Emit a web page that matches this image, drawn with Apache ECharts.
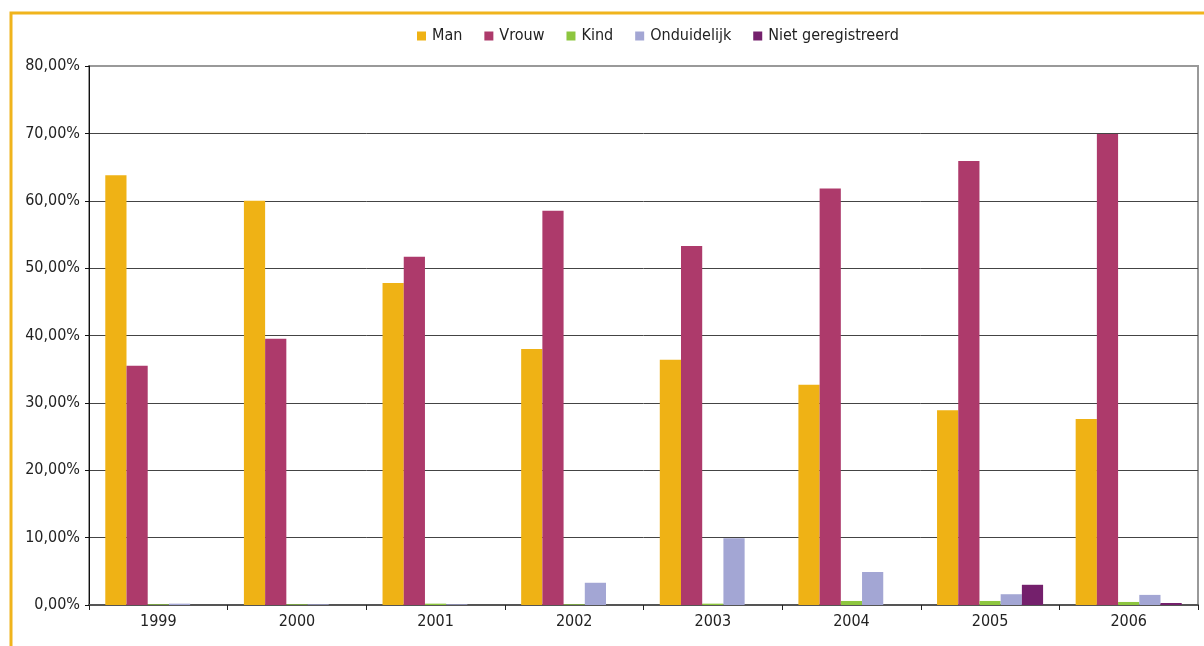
<!DOCTYPE html>
<html>
<head>
<meta charset="utf-8">
<script src="https://cdn.jsdelivr.net/npm/echarts@6/dist/echarts.min.js"></script>
<style>
  html, body { margin: 0; padding: 0; background: #fff; }
  #chart { width: 1204px; height: 646px; }
</style>
</head>
<body>
<div id="chart"></div>
<script>
// Share of registrations per year, by group (percent)
const years = ['1999', '2000', '2001', '2002', '2003', '2004', '2005', '2006'];
const man         = [63.8, 60.0, 47.8, 38.0, 36.4, 32.7, 28.9, 27.6];
const vrouw       = [35.5, 39.5, 51.7, 58.5, 53.3, 61.8, 65.9, 69.9];
const kind        = [0.1, 0.1, 0.2, 0.1, 0.2, 0.6, 0.6, 0.45];
const onduidelijk = [0.2, 0.1, 0.1, 3.3, 9.9, 4.9, 1.6, 1.5];
const nietGereg   = [0.0, 0.0, 0.0, 0.0, 0.0, 0.0, 3.0, 0.3];
const yTicks = [0, 10, 20, 30, 40, 50, 60, 70, 80];

const FONT = "'Liberation Sans Narrow', 'DejaVu Sans Condensed', 'Roboto', sans-serif";

const seriesDefs = [
  { name: 'Man', data: man, color: '#EFB215' },
  { name: 'Vrouw', data: vrouw, color: '#AD3A6B' },
  { name: 'Kind', data: kind, color: '#8DC63F' },
  { name: 'Onduidelijk', data: onduidelijk, color: '#A3A6D4' },
  { name: 'Niet geregistreerd', data: nietGereg, color: '#74206C' }
];

// gridlines dark, the top one matches the lighter plot frame
const splitColors = yTicks.map((t, i) => (i === yTicks.length - 1 ? '#999' : '#444'));

const chart = echarts.init(document.getElementById('chart'), null, { renderer: 'canvas' });

chart.setOption({
  backgroundColor: '#fff',
  animation: false,
  textStyle: { fontFamily: FONT },
  graphic: [{
    type: 'rect',
    shape: { x: 11, y: 13, width: 1250, height: 700 },
    style: { fill: 'none', stroke: '#F0B41C', lineWidth: 3 },
    silent: true,
    z: 100
  }],
  legend: {
    top: 23,
    left: 412,
    itemWidth: 9,
    itemHeight: 9,
    itemGap: 22,
    icon: 'rect',
    textStyle: { fontFamily: FONT, fontSize: 16, color: '#222', padding: [0, 0, 0, 1] },
    data: seriesDefs.map(s => s.name)
  },
  grid: {
    left: 89, right: 6, top: 66, bottom: 41,
    show: true, borderColor: '#999', borderWidth: 2
  },
  xAxis: {
    type: 'category',
    data: years,
    axisLine: { lineStyle: { color: '#555', width: 2 } },
    axisTick: { show: true, length: 5, lineStyle: { color: '#222' } },
    axisLabel: { fontFamily: FONT, fontSize: 16, color: '#222', margin: 9 }
  },
  yAxis: {
    type: 'value',
    min: yTicks[0],
    max: yTicks[yTicks.length - 1],
    interval: 10,
    axisLine: { show: true, lineStyle: { color: '#111', width: 1 } },
    axisTick: { show: true, length: 4, lineStyle: { color: '#111' } },
    splitLine: { lineStyle: { color: splitColors, width: 1 } },
    axisLabel: {
      fontFamily: FONT, fontSize: 16, color: '#222', margin: 9,
      formatter: v => v.toFixed(2).replace('.', ',') + '%'
    }
  },
  series: seriesDefs.map(s => ({
    name: s.name,
    type: 'bar',
    data: s.data,
    barGap: '0%',
    barCategoryGap: '23.5%',
    itemStyle: { color: s.color },
    emphasis: { disabled: true }
  }))
});
</script>
</body>
</html>
